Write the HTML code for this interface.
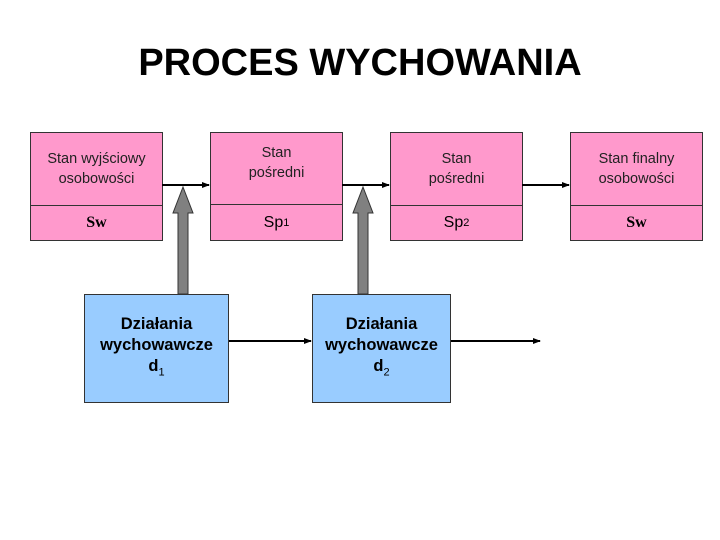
<!DOCTYPE html>
<html><head><meta charset="utf-8"><style>
body{margin:0;width:720px;height:540px;background:#fff;position:relative;overflow:hidden;font-family:"Liberation Sans",sans-serif}
.t{position:absolute;left:0;width:720px;top:42px;text-align:center;font-size:38px;font-weight:bold}
.p{position:absolute;background:#ff99cc;border:1px solid #333;box-sizing:border-box;width:133px;height:109px}
.p .a{position:absolute;left:0;right:0;top:0;height:72px;border-bottom:1px solid #333;display:flex;align-items:center;justify-content:center;text-align:center;font-size:14.5px;color:#222;line-height:20px}
.p .b{position:absolute;left:0;right:0;top:72px;bottom:0;display:flex;align-items:center;justify-content:center;font-size:16px}
.s{font-family:"Liberation Serif",serif;font-weight:bold;font-size:17px}
.bl{position:absolute;background:#99ccff;border:1px solid #333;box-sizing:border-box;width:145px;height:109px;top:294px;font-weight:bold;font-size:16.5px;line-height:21px;display:flex;align-items:center;justify-content:center;text-align:center}
sub{font-size:11px;font-weight:normal}
</style></head><body>
<div class="t">PROCES WYCHOWANIA</div>
<div class="p" style="left:30px;top:132px"><div class="a">Stan wyjściowy<br>osobowości</div><div class="b s">Sw</div></div>
<div class="p" style="left:210px;top:132px"><div class="a" style="align-items:flex-start;padding-top:10px;box-sizing:border-box">Stan<br>pośredni</div><div class="b">Sp<sub>1</sub></div></div>
<div class="p" style="left:390px;top:132px"><div class="a">Stan<br>pośredni</div><div class="b">Sp<sub>2</sub></div></div>
<div class="p" style="left:570px;top:132px"><div class="a">Stan finalny<br>osobowości</div><div class="b s">Sw</div></div>
<div class="bl" style="left:84px"><div>Działania<br>wychowawcze<br>d<sub>1</sub></div></div>
<div class="bl" style="left:312px;width:139px"><div>Działania<br>wychowawcze<br>d<sub>2</sub></div></div>
<svg width="720" height="540" style="position:absolute;left:0;top:0">
<defs><marker id="m" markerWidth="8" markerHeight="6" refX="7" refY="3" orient="auto" markerUnits="userSpaceOnUse"><path d="M0,0L8,3L0,6z" fill="#000"/></marker></defs>
<g stroke="#000" stroke-width="2" marker-end="url(#m)">
<line x1="162" y1="185" x2="209" y2="185"/>
<line x1="342" y1="185" x2="389" y2="185"/>
<line x1="522" y1="185" x2="569" y2="185"/>
<line x1="229" y1="341" x2="311" y2="341"/>
<line x1="451" y1="341" x2="540" y2="341"/>
</g>
<g fill="#808080" stroke="#333" stroke-width="1">
<path d="M178,294V213H173L183,187L193,213H188V294Z"/>
<path d="M358,294V213H353L363,187L373,213H368V294Z"/>
</g>
</svg>
</body></html>
